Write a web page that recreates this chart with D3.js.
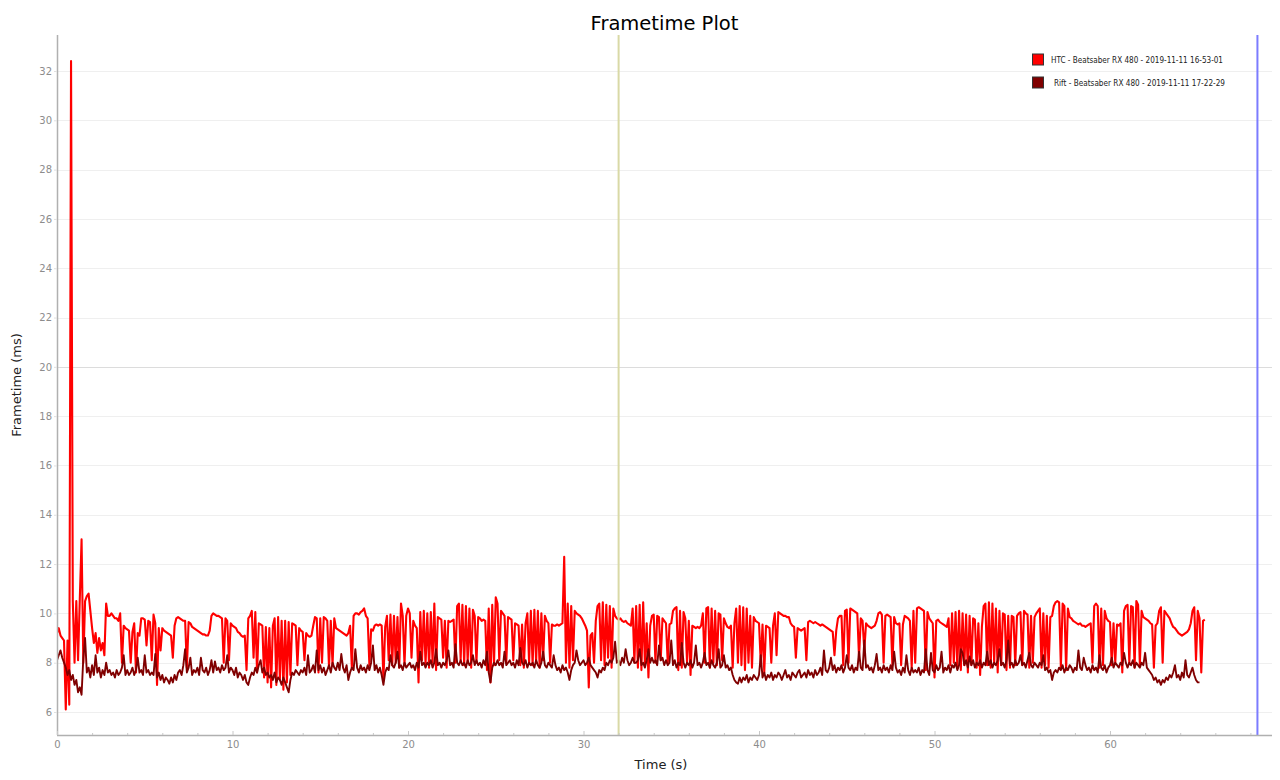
<!DOCTYPE html>
<html>
<head>
<meta charset="utf-8">
<script src="https://cdn.jsdelivr.net/npm/d3@7"></script>
<style>
  html, body { margin: 0; padding: 0; background: #ffffff; }
  svg { display: block; font-family: "DejaVu Sans", Verdana, sans-serif; }
</style>
</head>
<body>
<svg id="chart" width="1280" height="780"></svg>
<script>
// ---------- DATA ----------
const chartTitle = "Frametime Plot";
const xLabel = "Time (s)";
const yLabel = "Frametime (ms)";
const seriesNames = ["HTC - Beatsaber RX 480 - 2019-11-11 16-53-01", "Rift - Beatsaber RX 480 - 2019-11-11 17-22-29"];
const sampleStep = 0.1; // seconds between samples
const yTicks = [6, 8, 10, 12, 14, 16, 18, 20, 22, 24, 26, 28, 30, 32];
const xMajorTicks = [0, 10, 20, 30, 40, 50, 60];
const xMinorTicks = [0,2,4,6,8,10,12,14,16,18,20,22,24,26,28,30,32,34,36,38,40,42,44,46,48,50,52,54,56,58,60,62,64,66,68];
const markerTimes = [32, 68.4];

const htcValues = [
9.2,9.4,9.1,9.0,8.9,6.1,8.9,6.3,32.4,10.5,
8.0,10.5,8.1,10.6,13.0,8.0,10.5,10.7,10.8,10.1,
9.4,8.8,9.2,8.4,9.0,8.5,8.8,8.3,10.4,9.9,
9.9,10.0,9.9,9.8,9.8,9.7,10.0,8.0,9.5,9.4,
9.35,9.3,8.0,9.25,9.6,7.6,9.2,9.1,9.8,9.8,
9.75,8.7,9.7,9.65,8.1,9.95,9.6,7.1,9.4,8.5,
9.4,9.3,9.25,9.2,9.15,9.1,8.2,9.5,9.8,9.85,
9.8,9.75,9.7,9.7,7.8,9.65,9.6,9.45,9.4,9.35,
9.3,9.25,9.2,9.15,9.15,9.1,9.1,9.3,9.9,10.0,
9.95,9.9,9.9,9.85,9.8,8.0,9.8,9.7,8.1,9.6,
9.5,9.45,9.4,9.25,9.2,9.1,9.05,9.1,7.7,9.8,
9.9,10.1,8.2,10.05,7.6,9.6,9.55,9.5,7.4,9.45,
7.2,9.4,7.0,9.5,9.8,7.1,9.85,7.3,9.7,6.9,
9.7,7.2,9.65,7.5,9.6,9.55,9.5,7.9,9.4,9.3,
9.25,8.1,9.2,9.1,9.05,9.1,9.5,9.85,9.8,7.6,
9.8,8.0,9.85,9.8,9.7,7.8,9.7,7.9,9.8,9.4,
9.35,9.3,9.25,9.2,9.15,9.1,9.2,9.5,7.8,9.9,
10.0,10.0,9.95,10.05,10.1,10.2,9.9,9.8,7.9,9.35,
9.3,9.5,9.55,9.5,9.55,9.5,7.3,9.45,9.9,8.1,
9.95,7.9,9.9,8.0,9.85,7.8,10.4,9.9,7.9,9.9,
10.2,10.0,8.2,9.7,9.5,9.4,7.2,10.05,8.1,10.1,
7.9,10.0,7.8,10.05,8.0,10.4,7.7,9.85,9.8,9.75,
8.2,9.7,7.8,9.7,9.65,9.7,9.75,8.0,10.3,10.4,
8.1,10.35,7.9,10.3,8.0,10.2,7.8,10.15,9.9,8.0,
9.85,9.8,9.7,9.75,9.7,7.7,10.2,7.2,10.35,7.9,
10.65,10.4,8.1,10.1,10.0,9.9,8.0,9.85,9.8,9.75,
8.1,9.6,9.55,9.5,7.9,9.55,7.8,9.6,10.0,8.0,
10.1,7.9,10.15,8.0,10.1,7.8,10.0,8.1,9.9,9.7,
9.6,8.0,9.55,9.5,9.5,9.55,9.5,9.55,9.6,12.3,
8.0,10.4,7.8,10.3,8.1,10.1,10.0,9.95,9.9,9.8,
9.65,9.5,9.3,7.0,9.1,9.2,8.0,9.7,10.3,10.4,
8.1,10.45,7.9,10.35,8.2,10.3,7.8,10.2,9.9,9.8,
9.75,9.8,9.7,9.65,9.7,9.6,9.55,9.5,10.2,8.0,
10.3,7.8,10.35,7.7,10.45,7.9,9.6,7.4,9.5,9.9,
9.95,8.0,9.9,9.85,8.1,9.8,9.7,9.6,8.0,9.55,
9.6,10.1,10.2,10.25,7.7,10.1,7.8,10.05,9.8,8.0,
9.7,7.5,9.5,9.45,9.4,9.45,9.4,9.5,10.0,8.0,
10.2,10.25,7.8,10.2,8.0,10.1,7.9,10.0,9.95,8.1,
9.8,9.6,9.45,9.4,9.5,7.8,9.6,10.2,8.0,10.3,
7.9,10.25,7.7,10.2,8.0,9.9,7.8,9.85,9.7,9.65,
9.6,8.0,9.55,7.6,9.5,9.45,9.4,8.0,9.5,10.0,
8.3,10.05,10.0,9.95,9.9,9.9,9.85,9.85,9.6,9.5,
9.45,8.2,9.4,9.35,9.3,9.35,9.4,8.1,9.65,9.7,
9.65,9.6,9.65,9.6,9.55,9.5,9.55,9.5,9.45,9.4,
9.35,9.3,9.25,8.3,9.3,9.8,9.9,9.9,7.9,10.1,
10.15,8.0,10.2,10.15,10.1,10.05,10.0,8.2,9.8,9.7,
8.5,9.6,9.5,9.45,9.4,9.45,9.5,9.7,10.0,10.05,
9.95,8.0,9.9,9.95,9.9,9.85,7.9,9.85,9.6,9.55,
9.6,7.9,9.55,9.9,9.85,9.8,9.7,7.8,10.1,8.0,
10.2,10.25,10.2,10.15,10.1,7.7,10.05,9.8,9.7,9.6,
7.4,9.7,9.75,9.65,9.6,9.55,9.5,9.45,9.8,7.9,
10.0,8.0,10.05,7.8,10.1,7.7,10.0,7.9,9.95,7.6,
9.9,7.9,9.8,9.75,7.8,9.6,7.5,9.45,10.3,10.4,
7.9,10.45,7.8,10.4,8.0,10.2,7.6,10.1,7.9,10.0,
9.95,7.7,9.9,7.8,9.9,9.85,7.9,9.9,10.0,10.05,
7.9,10.1,10.0,9.95,7.8,9.9,8.0,9.85,10.0,10.1,
10.2,7.8,10.0,7.9,9.9,7.8,9.85,9.9,10.3,10.45,
10.5,10.45,7.8,10.4,10.3,7.7,10.2,9.85,9.8,9.7,
9.65,9.6,9.55,9.6,9.5,9.5,9.45,9.5,9.55,9.6,
8.0,10.3,10.4,10.3,7.8,10.2,7.9,10.1,9.8,9.7,
9.65,7.9,9.6,8.0,9.55,9.5,9.6,7.6,10.1,10.3,
10.35,8.0,10.3,10.25,7.8,10.5,10.35,7.9,10.1,9.85,
9.8,9.75,9.7,9.6,9.55,7.8,9.5,9.6,10.1,10.25,
8.0,10.1,10.0,9.9,9.8,9.6,9.45,9.4,9.3,9.2,
9.15,9.1,9.15,9.2,9.25,9.35,9.6,10.1,10.25,8.1,
10.1,9.8,7.6,9.7,9.75
];

const riftValues = [
8.1,8.3,8.5,8.2,8.0,7.8,7.5,7.7,7.3,7.5,
7.1,7.3,6.8,7.0,6.7,8.2,9.0,7.6,7.8,7.4,
7.9,7.5,8.3,7.6,7.8,7.4,7.7,7.5,8.0,7.6,
7.7,7.5,7.6,7.4,7.7,7.5,7.6,7.8,8.3,7.5,
7.7,7.5,7.6,7.8,7.5,7.7,8.2,7.6,7.7,7.5,
8.3,7.6,7.7,7.5,7.6,7.5,8.35,7.4,7.6,7.3,
7.5,7.2,7.4,7.3,7.15,7.4,7.2,7.5,7.3,7.6,
7.7,7.5,7.9,8.55,7.6,7.8,8.2,7.5,7.7,7.6,
7.8,7.5,8.2,7.7,7.6,7.8,7.5,7.7,8.1,7.6,
8.05,7.7,7.8,7.6,7.9,7.7,7.8,8.3,7.6,7.8,
7.7,7.5,7.8,7.4,7.6,7.5,7.3,7.5,7.2,7.1,
7.4,7.6,7.5,7.8,7.6,7.9,8.1,7.6,7.8,7.5,
7.6,7.4,7.5,7.3,7.6,7.2,7.4,7.3,7.1,7.4,
7.2,7.0,6.8,7.3,7.6,7.5,7.7,7.6,7.5,7.7,
7.6,7.8,7.5,8.3,7.6,7.7,7.9,7.6,8.5,7.7,
7.9,7.6,7.8,7.5,7.7,7.9,7.6,8.0,7.8,7.7,
8.0,7.7,8.35,7.8,7.6,7.9,7.3,7.6,7.8,7.7,
8.55,7.8,7.6,7.9,7.7,7.8,7.6,7.9,7.7,8.0,
8.7,7.7,7.9,7.6,7.8,7.5,7.1,7.6,7.8,7.7,
8.3,7.9,7.8,8.0,8.45,7.8,7.9,7.7,8.0,7.8,
7.9,8.0,7.8,7.9,7.7,8.0,7.8,8.45,7.9,8.0,
7.8,8.0,7.9,8.1,7.8,8.0,8.55,7.9,8.0,7.8,
8.0,7.9,8.1,8.5,7.9,8.0,7.8,8.75,8.0,7.9,
8.1,7.9,8.0,7.8,8.1,7.9,8.0,8.3,7.9,8.1,
7.9,8.0,7.8,8.1,7.9,8.45,7.6,7.2,7.8,8.0,
7.9,8.1,7.9,8.0,7.8,8.45,7.9,8.0,8.1,7.9,
8.0,7.8,8.1,7.9,8.6,8.0,7.9,8.1,7.8,8.0,
7.9,8.0,7.8,8.1,7.9,7.8,8.0,8.45,7.9,7.8,
8.0,7.9,7.8,8.3,7.9,7.7,7.8,7.6,7.9,7.7,
7.8,7.6,7.3,7.7,7.9,8.0,8.5,8.1,7.9,8.0,
8.1,7.9,8.0,8.2,7.9,7.8,7.7,7.6,7.4,7.7,
7.6,7.8,7.7,8.0,7.9,8.1,8.0,8.2,8.85,8.0,
8.1,7.9,8.2,8.0,8.55,8.1,7.9,8.0,8.2,8.0,
8.0,8.1,8.55,7.9,8.0,7.8,8.1,8.55,8.0,8.2,
8.0,8.1,7.9,8.7,8.1,8.2,7.9,8.1,7.9,8.0,
8.9,7.9,8.1,7.8,8.0,7.9,8.8,8.0,7.8,8.0,
7.9,8.1,7.8,8.0,8.7,7.9,8.0,7.8,8.0,8.4,
7.9,8.0,7.8,8.1,7.9,7.8,8.0,8.55,7.8,7.9,
8.3,7.8,7.9,7.7,7.8,7.5,7.3,7.2,7.15,7.4,
7.2,7.4,7.3,7.5,7.2,7.4,7.3,7.5,7.4,7.3,
7.5,8.3,7.4,7.6,7.3,7.5,7.4,7.6,7.3,7.5,
7.4,7.6,7.5,7.3,7.5,7.7,7.4,7.5,7.3,7.6,
7.5,7.4,7.6,7.7,7.4,7.5,7.6,7.4,7.7,7.5,
7.6,7.4,7.7,7.5,7.6,7.8,7.5,8.5,7.7,7.6,
7.8,8.2,7.7,7.9,7.6,7.8,7.7,7.9,7.6,7.8,
8.3,7.8,7.7,7.9,7.6,7.8,7.7,8.45,7.8,7.7,
8.9,7.8,7.9,7.7,7.8,7.6,7.9,8.35,7.7,7.8,
7.6,7.9,7.7,7.8,7.6,7.9,7.7,8.45,7.8,7.6,
7.7,7.5,7.8,7.6,8.3,7.7,7.5,7.8,7.6,7.7,
7.6,7.8,7.5,7.7,7.6,8.55,7.7,7.5,8.4,7.7,
7.6,7.9,7.7,7.8,8.45,7.6,7.8,7.7,7.9,7.6,
7.9,7.8,8.0,7.7,7.9,8.55,8.4,7.9,8.1,7.8,
8.25,7.9,8.1,7.8,8.0,7.9,8.1,7.8,8.0,7.9,
8.45,7.9,8.1,7.8,8.0,7.9,8.1,8.55,7.9,8.0,
7.8,8.1,8.9,7.9,8.0,7.8,8.1,7.9,8.0,8.3,
7.9,8.0,7.8,8.1,8.4,7.9,7.8,8.0,7.9,7.8,
8.0,7.9,8.3,7.7,7.8,7.6,7.7,7.3,7.6,7.7,
7.6,7.8,7.7,7.9,7.6,7.8,7.7,7.9,7.8,7.6,
7.8,7.7,8.5,7.8,7.7,8.2,7.9,7.7,7.8,7.6,
7.9,7.7,7.8,7.6,8.3,7.8,7.7,7.9,7.6,7.8,
7.9,8.2,7.8,8.0,7.9,7.8,8.0,7.9,8.4,8.0,
7.8,8.0,7.9,8.1,7.8,8.0,7.9,7.8,8.0,7.9,
8.4,7.8,7.7,7.6,7.5,7.3,7.4,7.2,7.3,7.1,
7.3,7.2,7.4,7.3,7.5,7.4,7.6,7.9,7.4,7.5,
7.3,7.6,7.4,8.1,7.5,7.4,7.6,7.8,7.5,7.3,
7.2,7.2
];

const seriesColors = ["#ff0000", "#800000"];
const markerColors = ["#d9d9a6", "#7c7cff"];

// ---------- LAYOUT ----------
const svg = d3.select("#chart");
const plot = { left: 57, right: 1272, top: 35, bottom: 735 };

const x = d3.scaleLinear().domain([0, 69.23]).range([plot.left, plot.right]);
const y = d3.scaleLinear().domain([5.067, 33.46]).range([plot.bottom, plot.top]);

svg.append("defs").append("clipPath").attr("id", "clip")
  .append("rect").attr("x", plot.left).attr("y", plot.top)
  .attr("width", plot.right - plot.left).attr("height", plot.bottom - plot.top);

// gridlines
svg.append("g").selectAll("line").data(yTicks).join("line")
  .attr("x1", plot.left).attr("x2", plot.right)
  .attr("y1", d => Math.round(y(d)) + 0.5).attr("y2", d => Math.round(y(d)) + 0.5)
  .attr("stroke", d => d === 20 ? "#dcdcdc" : "#efefef")
  .attr("stroke-width", 1);

// series
const toPoints = vals => vals.map((v, i) => [i * sampleStep, v]);
const line = d3.line().x(d => x(d[0])).y(d => y(d[1]));
const linesG = svg.append("g").attr("clip-path", "url(#clip)");
linesG.append("path").datum(toPoints(htcValues))
  .attr("fill", "none").attr("stroke", seriesColors[0])
  .attr("stroke-width", 2.1).attr("stroke-linejoin", "round").attr("d", line);
linesG.append("path").datum(toPoints(riftValues))
  .attr("fill", "none").attr("stroke", seriesColors[1])
  .attr("stroke-width", 1.9).attr("stroke-linejoin", "round").attr("d", line);

// marker lines
svg.append("g").selectAll("line").data(markerTimes).join("line")
  .attr("x1", d => x(d)).attr("x2", d => x(d))
  .attr("y1", plot.top).attr("y2", plot.bottom)
  .attr("stroke", (d, i) => markerColors[i]).attr("stroke-width", 2);

// axes
const axisColor = "#b0b0b0";
const labelColor = "#8c8c8c";

const yAxis = svg.append("g").attr("transform", `translate(${plot.left},0)`)
  .call(d3.axisLeft(y).tickValues(yTicks).tickSize(3).tickPadding(2).tickFormat(d3.format("d")));
yAxis.select(".domain").attr("stroke", axisColor).attr("stroke-width", 1.5)
  .attr("d", `M0.5,${plot.top}V${plot.bottom}`);
yAxis.selectAll(".tick line").attr("stroke", "#e0e0e0");
yAxis.selectAll(".tick text").attr("fill", labelColor)
  .style("font-family", "'DejaVu Sans', sans-serif").style("font-size", "10px");

const xAxis = svg.append("g").attr("transform", `translate(0,${plot.bottom})`)
  .call(d3.axisBottom(x).tickValues(xMinorTicks).tickSizeInner(-2).tickSizeOuter(0).tickPadding(6)
    .tickFormat(d => xMajorTicks.includes(d) ? d : ""));
xAxis.select(".domain").attr("stroke", axisColor).attr("stroke-width", 1.5)
  .attr("d", `M${plot.left},0.5H${plot.right}`);
xAxis.selectAll(".tick line").attr("stroke", "#c8c8c8")
  .attr("y2", d => xMajorTicks.includes(d) ? -4 : -2);
xAxis.selectAll(".tick text").attr("fill", labelColor)
  .style("font-family", "'DejaVu Sans', sans-serif").style("font-size", "10px");

// title & axis labels
svg.append("text").attr("x", (plot.left + plot.right) / 2).attr("y", 30)
  .attr("text-anchor", "middle").attr("fill", "#000")
  .style("font-family", "'DejaVu Sans', sans-serif").style("font-size", "19.5px")
  .text(chartTitle);
svg.append("text").attr("x", 661).attr("y", 769)
  .attr("text-anchor", "middle").attr("fill", "#222")
  .style("font-family", "'DejaVu Sans', sans-serif").style("font-size", "13px")
  .text(xLabel);
svg.append("text").attr("transform", `translate(21,${(plot.top + plot.bottom) / 2}) rotate(-90)`)
  .attr("text-anchor", "middle").attr("fill", "#222")
  .style("font-family", "'DejaVu Sans', sans-serif").style("font-size", "13px")
  .text(yLabel);

// legend
const legendRows = [
  { name: seriesNames[0], color: seriesColors[0], sx: 1032, tx: 1051, tw: 172, cy: 59.5 },
  { name: seriesNames[1], color: seriesColors[1], sx: 1032, tx: 1054, tw: 171, cy: 82.5 }
];
const lg = svg.append("g");
legendRows.forEach(r => {
  lg.append("rect").attr("x", r.sx + 0.5).attr("y", r.cy - 5.5).attr("width", 11).attr("height", 11)
    .attr("fill", r.color).attr("stroke", "#333").attr("stroke-width", 1);
  lg.append("text").attr("x", r.tx).attr("y", r.cy + 3.5).attr("fill", "#222")
    .attr("textLength", r.tw).attr("lengthAdjust", "spacingAndGlyphs")
    .style("font-family", "'DejaVu Sans', sans-serif").style("font-size", "9.5px")
    .text(r.name);
});
</script>
</body>
</html>
